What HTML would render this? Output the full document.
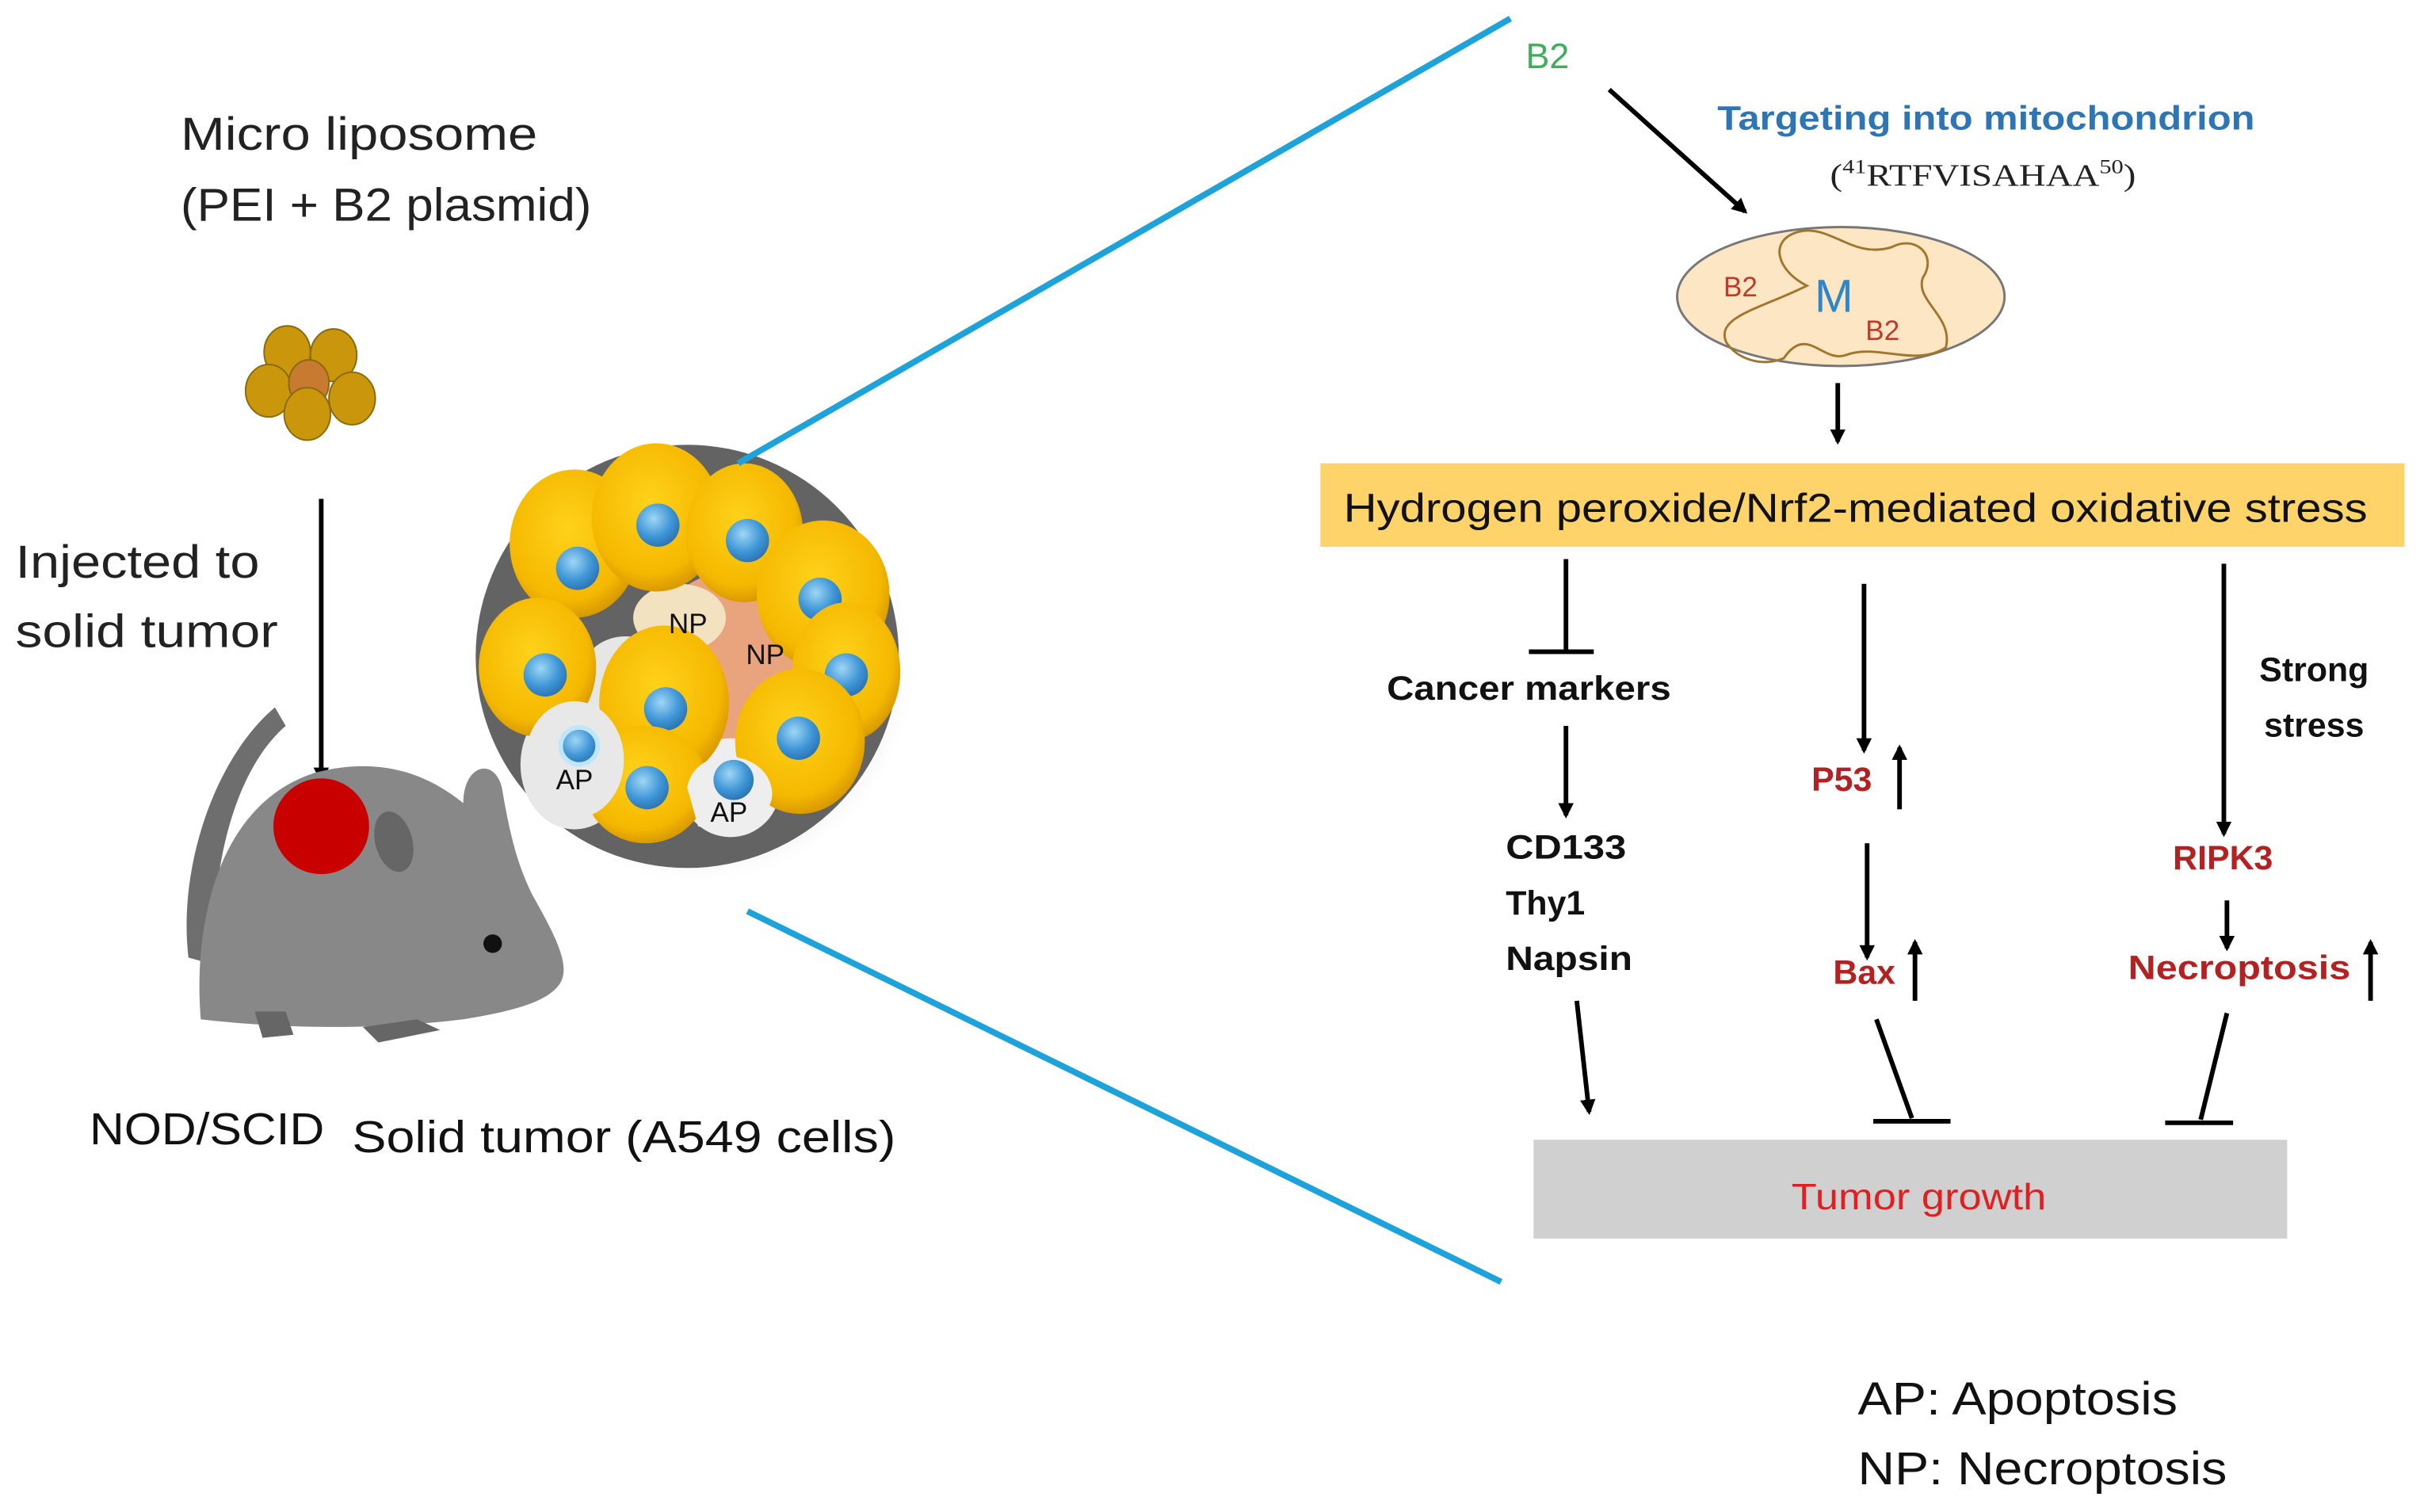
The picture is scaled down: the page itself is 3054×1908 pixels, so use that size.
<!DOCTYPE html>
<html><head><meta charset="utf-8"><style>
html,body{margin:0;padding:0;background:#fff}
svg{display:block}
text{font-family:"Liberation Sans",sans-serif}
</style></head><body>
<svg width="3054" height="1908" viewBox="0 0 1567 979" xmlns="http://www.w3.org/2000/svg">
<defs>
<marker id="ah" markerWidth="10" markerHeight="10" refX="8" refY="5" orient="auto" markerUnits="userSpaceOnUse"><path d="M0,0 L10,5 L0,10 z" fill="#000"/></marker>
<radialGradient id="cell" cx="0.45" cy="0.4" r="0.6"><stop offset="0" stop-color="#ffd21a"/><stop offset="0.8" stop-color="#f5b800"/><stop offset="1" stop-color="#d99a00"/></radialGradient>
<radialGradient id="nuc" cx="0.4" cy="0.35" r="0.7"><stop offset="0" stop-color="#9fd6f5"/><stop offset="0.6" stop-color="#3e96d6"/><stop offset="1" stop-color="#2a6fb0"/></radialGradient>
<radialGradient id="sh" cx="0.5" cy="0.5" r="0.5"><stop offset="0.7" stop-color="#999" stop-opacity="0.6"/><stop offset="1" stop-color="#fff" stop-opacity="0"/></radialGradient>
</defs>
<rect width="1567" height="979" fill="#fff"/>

<text x="117" y="97" font-size="30" fill="#222" textLength="231" lengthAdjust="spacingAndGlyphs">Micro liposome</text>
<text x="117" y="143" font-size="30" fill="#222" textLength="266" lengthAdjust="spacingAndGlyphs">(PEI + B2 plasmid)</text>
<g fill="#c9960c" stroke="#8a6a10" stroke-width="1">
<ellipse cx="186" cy="228" rx="15" ry="17"/><ellipse cx="216" cy="230" rx="15" ry="17"/>
<ellipse cx="174" cy="253" rx="15" ry="17"/><ellipse cx="228" cy="258" rx="15" ry="17"/>
<ellipse cx="200" cy="248" rx="13" ry="15" fill="#c87a30"/>
<ellipse cx="199" cy="268" rx="15" ry="17"/>
</g>
<line x1="208" y1="323" x2="208" y2="505" stroke="#000" stroke-width="3" marker-end="url(#ah)"/>
<text x="10" y="374" font-size="30" fill="#222" textLength="158" lengthAdjust="spacingAndGlyphs">Injected to</text>
<text x="10" y="419" font-size="30" fill="#222" textLength="170" lengthAdjust="spacingAndGlyphs">solid tumor</text>

<path d="M178,458 C140,490 115,560 122,620 L140,625 C135,570 150,500 185,470 Z" fill="#6e6e6e"/>
<path d="M130,660 C125,600 140,520 205,500 C245,490 275,500 300,520 C300,495 320,490 325,510 C330,540 335,560 345,580 C365,615 370,630 360,640 C350,650 330,655 300,660 C260,665 200,668 130,660 Z" fill="#888"/>
<ellipse cx="255" cy="545" rx="12" ry="20" fill="#666" transform="rotate(-15 255 545)"/>
<circle cx="208" cy="535" r="31" fill="#c80000"/>
<circle cx="319" cy="611" r="6" fill="#111"/>
<path d="M165,655 L185,655 L190,670 L170,672 Z" fill="#666"/>
<path d="M235,665 L270,660 L285,667 L245,675 Z" fill="#666"/>

<circle cx="452" cy="432" r="142" fill="url(#sh)"/>
<circle cx="445" cy="425" r="137" fill="#636363"/>
<ellipse cx="475" cy="425" rx="55" ry="55" fill="#e9a47d"/>
<ellipse cx="440" cy="400" rx="30" ry="22" fill="#f3e2c0"/>
<ellipse cx="405" cy="440" rx="30" ry="28" fill="#e6e6e6"/>
<ellipse cx="372" cy="495" rx="35" ry="42" fill="#e8e8e8"/>
<ellipse cx="473" cy="510" rx="32" ry="32" fill="#eee"/>
<g>
<ellipse cx="372" cy="352" rx="42" ry="48" fill="url(#cell)"/><circle cx="374" cy="368" r="14" fill="url(#nuc)"/>
<ellipse cx="425" cy="335" rx="42" ry="48" fill="url(#cell)"/><circle cx="426" cy="340" r="14" fill="url(#nuc)"/>
<ellipse cx="482" cy="345" rx="38" ry="45" fill="url(#cell)"/><circle cx="484" cy="350" r="14" fill="url(#nuc)"/>
<ellipse cx="533" cy="385" rx="43" ry="48" fill="url(#cell)"/><circle cx="531" cy="388" r="14" fill="url(#nuc)"/>
<ellipse cx="548" cy="435" rx="35" ry="45" fill="url(#cell)"/><circle cx="548" cy="437" r="14" fill="url(#nuc)"/>
<ellipse cx="348" cy="432" rx="38" ry="45" fill="url(#cell)"/><circle cx="353" cy="437" r="14" fill="url(#nuc)"/>
<ellipse cx="430" cy="455" rx="42" ry="50" fill="url(#cell)"/><circle cx="431" cy="459" r="14" fill="url(#nuc)"/>
<ellipse cx="518" cy="480" rx="42" ry="47" fill="url(#cell)"/><circle cx="517" cy="478" r="14" fill="url(#nuc)"/>
<ellipse cx="418" cy="508" rx="40" ry="38" fill="url(#cell)"/><circle cx="419" cy="510" r="14" fill="url(#nuc)"/>
</g>
<ellipse cx="372" cy="492" rx="32" ry="38" fill="#e8e8e8"/>
<circle cx="375" cy="483" r="12" fill="url(#nuc)" stroke="#bfe6fa" stroke-width="3"/>
<path d="M445,510 C450,480 500,485 500,515 C498,535 470,540 452,535 Z" fill="#eee"/>
<circle cx="475" cy="505" r="13" fill="url(#nuc)"/>
<text x="433" y="410" font-size="18" fill="#111">NP</text>
<text x="483" y="430" font-size="18" fill="#111">NP</text>
<text x="360" y="511" font-size="18" fill="#111">AP</text>
<text x="460" y="532" font-size="18" fill="#111">AP</text>

<text x="58" y="741" font-size="29" fill="#111" textLength="152" lengthAdjust="spacingAndGlyphs">NOD/SCID</text>
<text x="228" y="746" font-size="29" fill="#111" textLength="352" lengthAdjust="spacingAndGlyphs">Solid tumor (A549 cells)</text>

<line x1="478" y1="300" x2="978" y2="12" stroke="#1ea2da" stroke-width="4"/>
<line x1="484" y1="590" x2="972" y2="830" stroke="#1ea2da" stroke-width="4"/>

<text x="988" y="44" font-size="23" fill="#3fae5c">B2</text>
<line x1="1042" y1="58" x2="1130" y2="137" stroke="#000" stroke-width="3" marker-end="url(#ah)"/>
<text x="1112" y="84" font-size="22" font-weight="bold" fill="#2e75b6" textLength="348" lengthAdjust="spacingAndGlyphs">Targeting into mitochondrion</text>
<text x="1185" y="120" font-size="20" fill="#222" style="font-family:'Liberation Serif',serif" textLength="198" lengthAdjust="spacingAndGlyphs">(<tspan font-size="13" dy="-8">41</tspan><tspan dy="8">RTFVISAHAA</tspan><tspan font-size="13" dy="-8">50</tspan><tspan dy="8">)</tspan></text>
<ellipse cx="1192" cy="192" rx="106" ry="45" fill="#fce6c3" stroke="#777" stroke-width="1.5"/>
<path d="M1118,222 C1110,205 1140,200 1170,185 C1150,175 1145,155 1165,150 C1185,145 1200,168 1225,160 C1240,152 1255,165 1245,180 C1240,195 1265,205 1260,225 C1240,238 1215,222 1195,230 C1180,235 1170,210 1155,232 C1140,238 1125,232 1118,222 Z" fill="none" stroke="#a0762c" stroke-width="1.5"/>
<text x="1116" y="192" font-size="18" fill="#c0392b">B2</text>
<text x="1175" y="202" font-size="30" fill="#2e86c8">M</text>
<text x="1208" y="220" font-size="18" fill="#c0392b">B2</text>
<line x1="1190" y1="248" x2="1190" y2="286" stroke="#000" stroke-width="3" marker-end="url(#ah)"/>

<rect x="855" y="300" width="702" height="54" fill="#fdd36a"/>
<text x="870" y="338" font-size="26" fill="#111" textLength="663" lengthAdjust="spacingAndGlyphs">Hydrogen peroxide/Nrf2-mediated  oxidative stress</text>

<line x1="1014" y1="362" x2="1014" y2="422" stroke="#000" stroke-width="3"/>
<line x1="990" y1="422" x2="1032" y2="422" stroke="#000" stroke-width="3"/>
<text x="898" y="453" font-size="22" font-weight="bold" fill="#111" textLength="184" lengthAdjust="spacingAndGlyphs">Cancer markers</text>
<line x1="1014" y1="470" x2="1014" y2="528" stroke="#000" stroke-width="3" marker-end="url(#ah)"/>
<text x="975" y="556" font-size="22" font-weight="bold" fill="#111" textLength="78" lengthAdjust="spacingAndGlyphs">CD133</text>
<text x="975" y="592" font-size="22" font-weight="bold" fill="#111">Thy1</text>
<text x="975" y="628" font-size="22" font-weight="bold" fill="#111" textLength="82" lengthAdjust="spacingAndGlyphs">Napsin</text>
<line x1="1021" y1="648" x2="1029" y2="720" stroke="#000" stroke-width="3" marker-end="url(#ah)"/>

<line x1="1207" y1="378" x2="1207" y2="486" stroke="#000" stroke-width="3" marker-end="url(#ah)"/>
<text x="1173" y="512" font-size="22" font-weight="bold" fill="#b22222">P53</text>
<line x1="1230" y1="524" x2="1230" y2="484" stroke="#000" stroke-width="3" marker-end="url(#ah)"/>
<line x1="1209" y1="546" x2="1209" y2="620" stroke="#000" stroke-width="3" marker-end="url(#ah)"/>
<text x="1187" y="637" font-size="22" font-weight="bold" fill="#b22222">Bax</text>
<line x1="1240" y1="648" x2="1240" y2="610" stroke="#000" stroke-width="3" marker-end="url(#ah)"/>
<line x1="1215" y1="660" x2="1238" y2="724" stroke="#000" stroke-width="3"/>
<line x1="1213" y1="726" x2="1263" y2="726" stroke="#000" stroke-width="3"/>

<line x1="1440" y1="365" x2="1440" y2="540" stroke="#000" stroke-width="3" marker-end="url(#ah)"/>
<text x="1463" y="441" font-size="22" font-weight="bold" fill="#111">Strong</text>
<text x="1466" y="477" font-size="22" font-weight="bold" fill="#111">stress</text>
<text x="1407" y="563" font-size="22" font-weight="bold" fill="#b22222">RIPK3</text>
<line x1="1442" y1="583" x2="1442" y2="614" stroke="#000" stroke-width="3" marker-end="url(#ah)"/>
<text x="1378" y="634" font-size="22" font-weight="bold" fill="#b22222" textLength="144" lengthAdjust="spacingAndGlyphs">Necroptosis</text>
<line x1="1535" y1="648" x2="1535" y2="610" stroke="#000" stroke-width="3" marker-end="url(#ah)"/>
<line x1="1442" y1="656" x2="1425" y2="725" stroke="#000" stroke-width="3"/>
<line x1="1402" y1="727" x2="1446" y2="727" stroke="#000" stroke-width="3"/>

<rect x="993" y="738" width="488" height="64" fill="#d0d0d0"/>
<text x="1160" y="783" font-size="24" fill="#e02020" textLength="165" lengthAdjust="spacingAndGlyphs">Tumor growth</text>

<text x="1203" y="916" font-size="30" fill="#111" textLength="207" lengthAdjust="spacingAndGlyphs">AP: Apoptosis</text>
<text x="1203" y="961" font-size="30" fill="#111" textLength="239" lengthAdjust="spacingAndGlyphs">NP: Necroptosis</text>
</svg>
</body></html>
